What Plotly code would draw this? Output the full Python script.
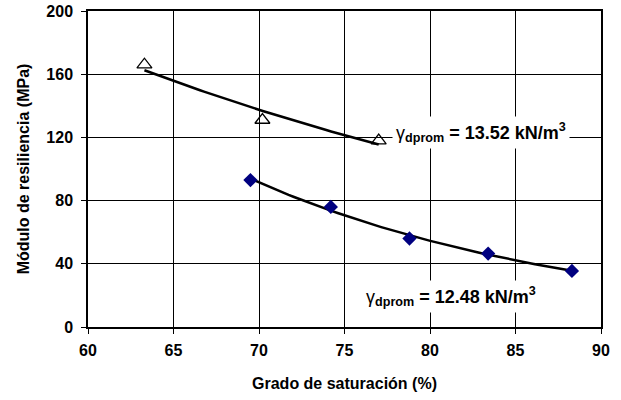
import numpy as np
import plotly.graph_objects as go

# gamma_d = 13.52 kN/m3 (triangles)
sat_a = [63.3, 70.2, 77.0]
mr_a = [166, 131, 118]

# gamma_d = 12.48 kN/m3 (diamonds)
sat_b = [69.5, 74.2, 78.8, 83.4, 88.3]
mr_b = [93, 76, 56, 46.5, 35.5]

x_ticks = [60, 65, 70, 75, 80, 85, 90]
y_ticks = [0, 40, 80, 120, 160, 200]

FONT = "Liberation Sans, Arial, sans-serif"


def exp_trend(xs, ys):
    # exponential trendline, same idea as the spreadsheet one
    b, a = np.polyfit(xs, np.log(ys), 1)
    xx = np.linspace(min(xs), max(xs), 60)
    return xx, np.exp(a + b * xx)


fig = go.Figure()

xa, ya = exp_trend(sat_a, mr_a)
xb, yb = exp_trend(sat_b, mr_b)
fig.add_trace(go.Scatter(x=xa, y=ya, mode="lines", line=dict(color="black", width=2.5), hoverinfo="skip"))
fig.add_trace(go.Scatter(x=xb, y=yb, mode="lines", line=dict(color="black", width=2.5), hoverinfo="skip"))

fig.add_trace(go.Scatter(
    x=sat_a, y=mr_a, mode="markers",
    marker=dict(symbol="triangle-up-open", size=13, color="black", line=dict(width=1.3)),
))
fig.add_trace(go.Scatter(
    x=sat_b, y=mr_b, mode="markers",
    marker=dict(symbol="diamond", size=11, color="#000080"),
))

label = "γ<sub><b>dprom</b></sub> <b>= {} kN/m<sup>3</sup></b>"
fig.add_annotation(
    x=77.75, y=123, xanchor="left", yanchor="middle", showarrow=False,
    text=label.format("13.52"),
    font=dict(family=FONT, size=18, color="black"), bgcolor="white", borderpad=3,
)
fig.add_annotation(
    x=76.0, y=19, xanchor="left", yanchor="middle", showarrow=False,
    text=label.format("12.48"),
    font=dict(family=FONT, size=18, color="black"), bgcolor="white", borderpad=3,
)

axis_style = dict(
    showgrid=True, gridcolor="black", gridwidth=1.2,
    showline=True, linecolor="black", linewidth=1.5, mirror=True,
    ticks="outside", ticklen=5, tickcolor="black",
    tickfont=dict(size=16, family=FONT, weight="bold"),
    zeroline=False, automargin=False,
)

fig.update_layout(
    width=621, height=400,
    paper_bgcolor="white", plot_bgcolor="white",
    margin=dict(l=88, r=20, t=11, b=73),
    showlegend=False,
    font=dict(family=FONT, color="black"),
)
fig.update_xaxes(
    range=[60, 90], tickvals=x_ticks, ticklabelstandoff=3,
    title=dict(text="Grado de saturación (%)", font=dict(size=16, weight="bold"), standoff=20),
    **axis_style,
)
fig.update_yaxes(
    range=[0, 200], tickvals=y_ticks, ticklabelstandoff=5,
    title=dict(text="Módulo de resiliencia (MPa)", font=dict(size=16, weight="bold"), standoff=13),
    **axis_style,
)

# page body has a default 8px margin; drop it so the figure sits at 0,0
fig.write_html(
    "out.html",
    config={"displayModeBar": False},
    post_script="document.body.style.margin='0';",
)
